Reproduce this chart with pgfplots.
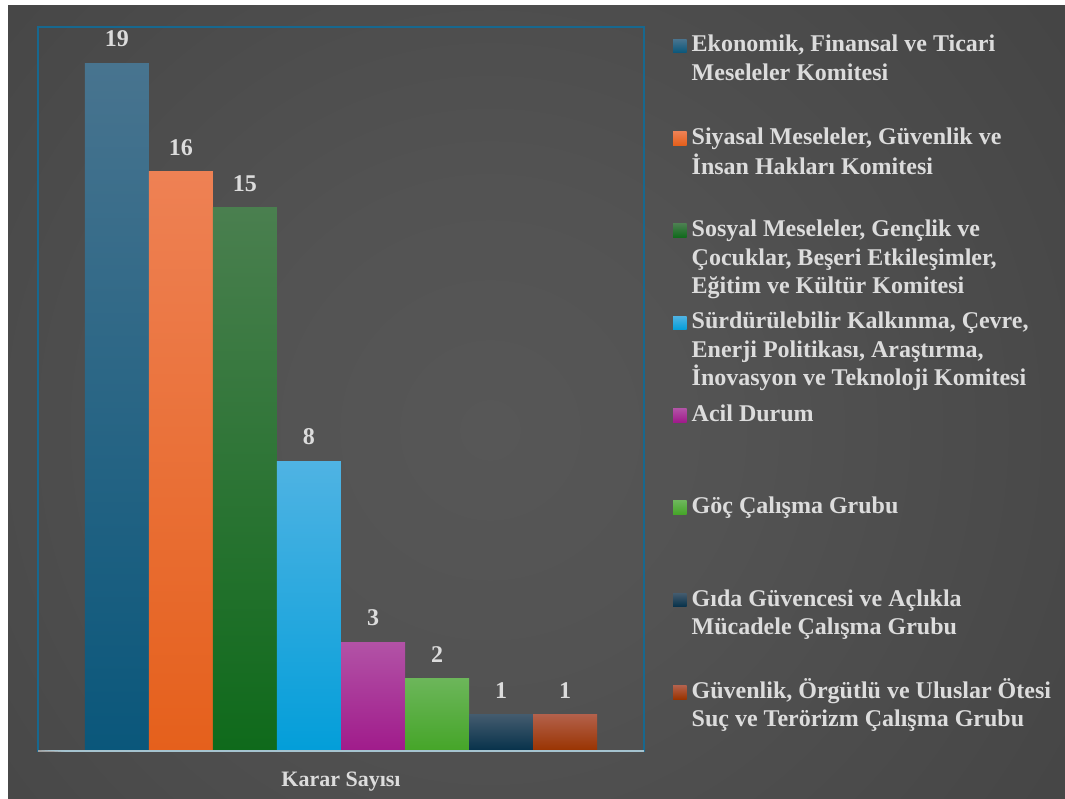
\documentclass[border=0pt]{standalone}
\usepackage{pgfplots}
\pgfplotsset{compat=1.18}
\usepackage{fontspec}
\setmainfont{Liberation Serif}

\definecolor{bg0}{HTML}{575757}
\definecolor{bg1}{HTML}{535353}
\definecolor{bg2}{HTML}{484848}
\definecolor{bg3}{HTML}{363636}
\definecolor{bg4}{HTML}{2D2D2D}
\definecolor{bg5}{HTML}{262626}
\definecolor{bg6}{HTML}{222222}
\definecolor{txt}{HTML}{DCDCDC}
\definecolor{frameblue}{HTML}{17688F}
\definecolor{axisgray}{HTML}{A5C3CF}
\definecolor{tickgray}{HTML}{A0A0A0}

\definecolor{cAt}{HTML}{48748F}\definecolor{cAb}{HTML}{0A577B}
\definecolor{cBt}{HTML}{EE8154}\definecolor{cBb}{HTML}{E5601C}
\definecolor{cCt}{HTML}{4A7F4F}\definecolor{cCb}{HTML}{0F6A1B}
\definecolor{cDt}{HTML}{4FB3E3}\definecolor{cDb}{HTML}{039ED9}
\definecolor{cEt}{HTML}{B252A6}\definecolor{cEb}{HTML}{A01B8B}
\definecolor{cFt}{HTML}{6CB65A}\definecolor{cFb}{HTML}{45A528}
\definecolor{cGt}{HTML}{435B6E}\definecolor{cGb}{HTML}{06314A}
\definecolor{cHt}{HTML}{B3604A}\definecolor{cHb}{HTML}{993300}

\pgfdeclareradialshading{bgshade}{\pgfpoint{0bp}{0bp}}{color(0bp)=(bg0); color(8bp)=(bg1); color(20bp)=(bg2); color(40bp)=(bg3); color(48bp)=(bg4); color(65bp)=(bg5); color(75bp)=(bg6)}

\newcommand{\lgd}[1]{\raisebox{0pt}[19.95pt][0pt]{\parbox[t]{372pt}{\raggedright\fontsize{24}{28.5}\selectfont\bfseries\strut #1}}}

\begin{document}
\begin{tikzpicture}
\fill[white] (0,0) rectangle (1065pt,798pt);
\begin{scope}
\clip (8pt,0) rectangle (1065pt,792pt);
\shade[shading=bgshade] (490pt-750pt,368pt-750pt) rectangle (490pt+750pt,368pt+750pt);
\end{scope}
\begin{axis}[
  at={(38pt,47pt)}, anchor=south west,
  scale only axis, width=606pt, height=724pt,
  xmin=-1.234, xmax=8.234, ymin=0, ymax=20,
  ybar, bar width=64pt, bar shift=0pt,
  ytick=\empty,
  xtick={3.5}, xticklabels={Karar Sayısı},
  major tick length=0pt,
  xticklabel style={font=\fontsize{22}{26}\selectfont\bfseries, text=txt, anchor=base, inner sep=0pt, yshift=-35.7pt},
  axis line style={draw=frameblue, line width=2pt},
  /pgf/number format/assume math mode=true,
  nodes near coords,
  every node near coord/.append style={font=\fontsize{24}{28}\selectfont\bfseries, text=txt, anchor=south, inner sep=0pt, yshift=16pt},
  legend image code/.code={\path[#1,draw=none] (0pt,-9.975pt) rectangle (13.5pt,3.525pt);},
  legend cell align=left,
  legend style={at={(1,1)}, anchor=north west, xshift=29pt, yshift=-4.75pt,
    draw=none, fill=none, inner sep=0pt, row sep=70.9pt, column sep=5pt,
    text=txt, nodes={inner sep=0pt}},
]
\addplot[draw=none, top color=cAt, bottom color=cAb] coordinates {(0,19)};
\addlegendentry{\lgd{Ekonomik, Finansal ve Ticari\newline Meseleler Komitesi}}
\addplot[draw=none, top color=cBt, bottom color=cBb] coordinates {(1,16)};
\addlegendentry{\lgd{Siyasal Meseleler, Güvenlik ve\newline İnsan Hakları Komitesi}}
\addplot[draw=none, top color=cCt, bottom color=cCb] coordinates {(2,15)};
\addlegendentry{\lgd{Sosyal Meseleler, Gençlik ve\newline Çocuklar, Beşeri Etkileşimler,\newline Eğitim ve Kültür Komitesi}}
\addplot[draw=none, top color=cDt, bottom color=cDb] coordinates {(3,8)};
\addlegendentry{\lgd{Sürdürülebilir Kalkınma, Çevre,\newline Enerji Politikası, Araştırma,\newline İnovasyon ve Teknoloji Komitesi}}
\addplot[draw=none, top color=cEt, bottom color=cEb] coordinates {(4,3)};
\addlegendentry{\lgd{Acil Durum}}
\addplot[draw=none, top color=cFt, bottom color=cFb] coordinates {(5,2)};
\addlegendentry{\lgd{Göç Çalışma Grubu}}
\addplot[draw=none, top color=cGt, bottom color=cGb] coordinates {(6,1)};
\addlegendentry{\lgd{Gıda Güvencesi ve Açlıkla\newline Mücadele Çalışma Grubu}}
\addplot[draw=none, top color=cHt, bottom color=cHb] coordinates {(7,1)};
\addlegendentry{\lgd{Güvenlik, Örgütlü ve Uluslar Ötesi\newline Suç ve Terörizm Çalışma Grubu}}
\draw[axisgray, line width=2pt] (rel axis cs:0,0) -- (rel axis cs:1,0);
\draw[tickgray, line width=2pt] (rel axis cs:0,0) -- ++(0,-6pt);
\draw[tickgray, line width=2pt] (rel axis cs:1,0) -- ++(0,-6pt);
\end{axis}
\pgfresetboundingbox
\useasboundingbox (0,0) rectangle (1065pt,798pt);
\end{tikzpicture}
\end{document}
